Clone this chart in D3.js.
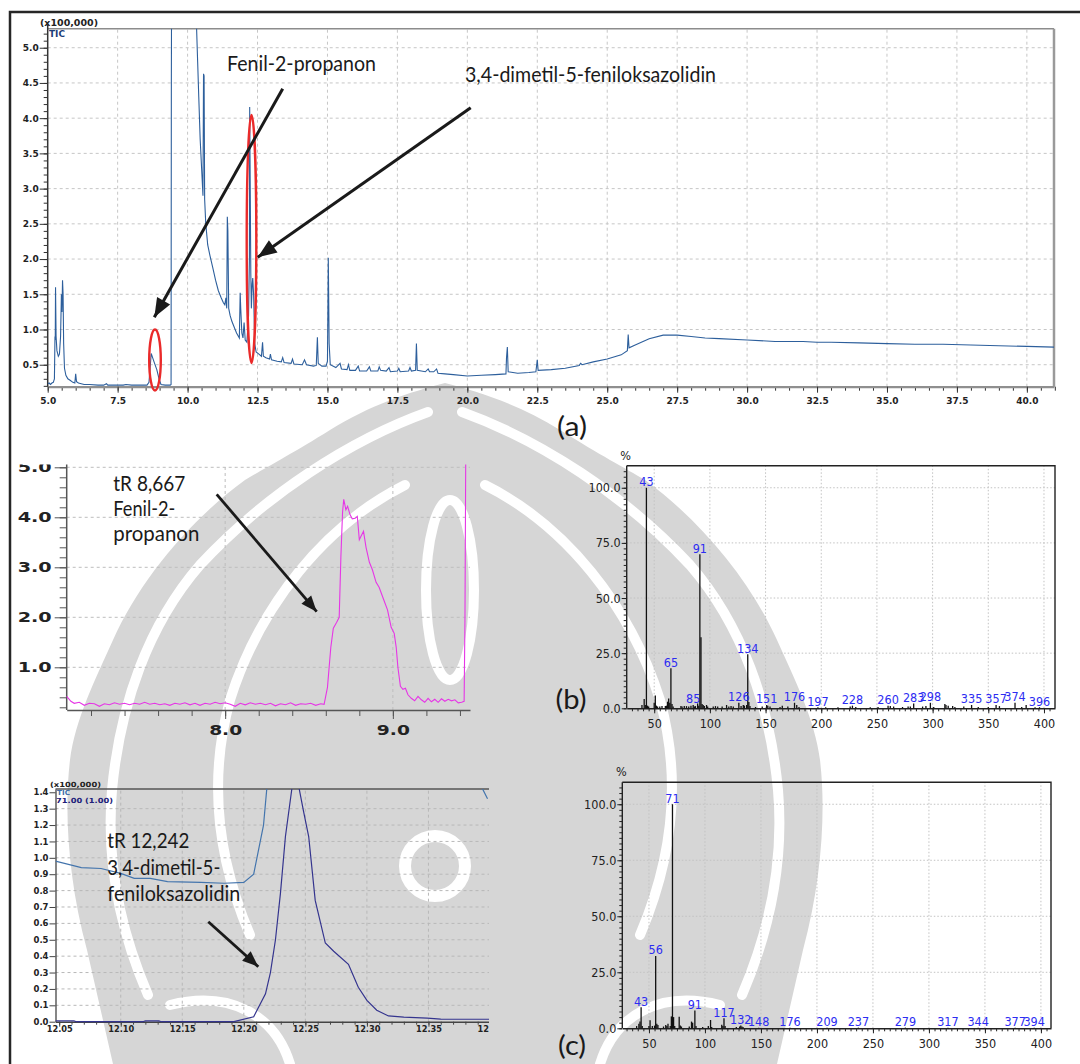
<!DOCTYPE html>
<html>
<head>
<meta charset="utf-8">
<script src="https://cdn.jsdelivr.net/npm/d3@7/dist/d3.min.js"></script>
<style>
  body { margin: 0; background: #fff; }
  svg { display: block; }
</style>
</head>
<body>
<script>
// ---------- data ----------

// (a) TIC chromatogram, time (min) vs intensity (x100,000); 6.0 = off scale
const ticA = [
  [5.00,0.23],[5.05,0.24],[5.10,0.22],[5.15,0.24],[5.20,0.25],[5.24,0.30],[5.26,0.90],[5.27,0.85],
  [5.28,1.60],[5.30,0.90],[5.33,0.70],[5.38,0.62],[5.42,0.65],[5.46,0.90],[5.49,1.50],[5.51,1.25],
  [5.53,1.70],[5.55,1.50],[5.57,0.80],[5.60,0.45],[5.65,0.35],[5.72,0.30],[5.80,0.28],[5.90,0.25],
  [5.97,0.24],[6.00,0.37],[6.03,0.26],[6.10,0.24],[6.30,0.22],[6.50,0.22],[6.80,0.21],[7.00,0.21],
  [7.10,0.23],[7.15,0.21],[7.40,0.21],[7.70,0.21],[7.80,0.22],[8.00,0.21],[8.30,0.21],[8.55,0.21],
  [8.62,0.25],[8.66,0.45],[8.70,0.66],[8.75,0.60],[8.82,0.52],[8.90,0.43],[8.98,0.30],[9.05,0.22],
  [9.20,0.21],[9.38,0.21],[9.41,0.22],[9.42,4.55],[9.43,6.0],[10.28,6.0],[10.32,5.30],[10.36,4.80],
  [10.40,4.30],[10.45,3.70],[10.50,3.30],[10.55,2.90],[10.57,4.63],[10.59,4.60],[10.61,2.85],
  [10.65,2.50],[10.72,2.20],[10.80,2.05],[10.90,1.88],[11.00,1.70],[11.10,1.55],[11.20,1.45],
  [11.28,1.38],[11.33,1.35],[11.37,1.45],[11.40,1.30],[11.42,2.60],[11.44,2.40],[11.47,1.30],
  [11.52,1.20],[11.58,1.12],[11.65,1.05],[11.75,0.95],[11.85,0.88],[11.88,1.52],[11.90,1.30],
  [11.94,0.95],[11.98,0.88],[12.02,1.10],[12.06,0.85],[12.12,0.82],[12.18,1.20],[12.21,2.00],
  [12.22,4.16],[12.24,3.00],[12.26,1.80],[12.28,1.30],[12.31,1.65],[12.33,1.73],[12.36,1.50],
  [12.40,0.80],[12.45,0.68],[12.55,0.65],[12.64,0.62],[12.68,0.82],[12.71,0.62],[12.80,0.60],
  [12.93,0.58],[12.96,0.65],[13.00,0.57],[13.20,0.55],[13.35,0.54],[13.40,0.60],[13.45,0.53],
  [13.70,0.52],[13.75,0.58],[13.80,0.51],[14.10,0.50],[14.18,0.57],[14.25,0.50],[14.50,0.48],
  [14.60,0.49],[14.64,0.89],[14.67,0.52],[14.80,0.48],[14.95,0.48],[15.00,0.55],[15.03,2.02],
  [15.06,0.80],[15.10,0.50],[15.30,0.46],[15.45,0.52],[15.50,0.44],[15.70,0.43],[15.75,0.50],
  [15.80,0.42],[16.00,0.42],[16.10,0.48],[16.15,0.41],[16.40,0.41],[16.50,0.47],[16.55,0.41],
  [16.80,0.41],[16.85,0.47],[16.90,0.42],[17.10,0.41],[17.20,0.46],[17.25,0.40],[17.50,0.41],
  [17.55,0.45],[17.60,0.40],[17.90,0.41],[17.95,0.46],[18.00,0.41],[18.15,0.42],[18.18,0.80],
  [18.21,0.42],[18.50,0.40],[18.60,0.44],[18.65,0.40],[18.80,0.40],[18.90,0.44],[18.95,0.38],
  [19.20,0.37],[19.50,0.36],[20.00,0.34],[20.50,0.35],[21.00,0.36],[21.38,0.37],[21.40,0.60],
  [21.43,0.75],[21.46,0.40],[21.80,0.38],[22.20,0.39],[22.45,0.40],[22.50,0.57],[22.53,0.42],
  [23.00,0.43],[23.50,0.45],[24.00,0.49],[24.05,0.52],[24.10,0.50],[24.50,0.54],[25.00,0.58],
  [25.50,0.64],[25.72,0.70],[25.75,0.93],[25.78,0.74],[26.00,0.78],[26.50,0.87],[27.00,0.92],
  [27.50,0.92],[28.00,0.90],[28.50,0.88],[29.00,0.87],[30.00,0.85],[31.00,0.83],[32.00,0.83],
  [32.50,0.82],[33.00,0.82],[34.00,0.81],[35.00,0.80],[36.00,0.79],[37.00,0.79],[38.00,0.78],
  [39.00,0.77],[40.00,0.76],[41.00,0.75]
];
const aTicksX = [5, 7.5, 10, 12.5, 15, 17.5, 20, 22.5, 25, 27.5, 30, 32.5, 35, 37.5, 40];
const aTicksY = [0.5, 1.0, 1.5, 2.0, 2.5, 3.0, 3.5, 4.0, 4.5, 5.0];

// (b) zoomed chromatogram around tR 8,667
const chromB = [
  [7.055,0.42],[7.08,0.32],[7.10,0.28],[7.13,0.30],[7.16,0.24],[7.19,0.28],[7.22,0.27],[7.25,0.22],
  [7.28,0.27],[7.31,0.25],[7.34,0.29],[7.37,0.26],[7.40,0.28],[7.43,0.25],[7.46,0.28],[7.49,0.26],
  [7.52,0.30],[7.55,0.26],[7.58,0.28],[7.61,0.25],[7.64,0.27],[7.67,0.24],[7.70,0.28],[7.73,0.26],
  [7.76,0.29],[7.79,0.25],[7.82,0.28],[7.85,0.24],[7.88,0.28],[7.91,0.26],[7.94,0.30],[7.97,0.27],
  [8.00,0.29],[8.03,0.26],[8.06,0.22],[8.09,0.28],[8.12,0.25],[8.15,0.29],[8.18,0.26],[8.21,0.28],
  [8.24,0.25],[8.27,0.28],[8.30,0.23],[8.33,0.27],[8.36,0.25],[8.39,0.29],[8.42,0.24],[8.45,0.27],
  [8.48,0.26],[8.51,0.28],[8.54,0.24],[8.57,0.27],[8.59,0.26],[8.61,0.60],[8.63,1.40],[8.645,1.78],
  [8.665,1.90],[8.68,2.00],[8.69,3.20],[8.70,4.10],[8.707,4.36],[8.72,4.15],[8.73,4.22],[8.745,4.05],
  [8.758,3.97],[8.775,3.98],[8.788,4.02],[8.80,3.55],[8.81,3.62],[8.825,3.72],[8.84,3.40],[8.86,3.10],
  [8.878,2.95],[8.90,2.70],[8.918,2.60],[8.94,2.40],[8.968,2.15],[8.99,1.80],[9.008,1.68],[9.02,1.40],
  [9.03,1.00],[9.045,0.62],[9.06,0.56],[9.075,0.58],[9.09,0.45],[9.11,0.38],[9.13,0.33],[9.15,0.42],
  [9.17,0.35],[9.19,0.30],[9.21,0.38],[9.23,0.31],[9.25,0.36],[9.27,0.30],[9.29,0.37],[9.31,0.32],
  [9.33,0.36],[9.35,0.33],[9.37,0.35],[9.39,0.29],[9.41,0.30],[9.425,0.32],[9.43,2.00],[9.435,5.50]
];
const bTicksY = [1, 2, 3, 4, 5];
const bTicksX = [8, 9];

// (c) zoomed chromatograms around tR 12,242: TIC and m/z 71
const ticC = [
  [12.047,0.98],[12.068,0.94],[12.084,0.935],[12.10,0.905],[12.111,0.875],[12.124,0.875],
  [12.138,0.855],[12.165,0.85],[12.184,0.845],[12.20,0.85],[12.208,0.90],[12.216,1.20],
  [12.219,1.45],[12.222,1.60],[12.392,1.60],[12.394,1.42],[12.398,1.36]
];
const ionC = [
  [12.047,0.005],[12.062,0.005],[12.064,0.0],[12.118,0.0],[12.12,0.005],[12.131,0.005],[12.133,0.0],
  [12.192,0.0],[12.208,0.03],[12.2176,0.17],[12.2216,0.30],[12.2257,0.50],[12.2297,0.78],
  [12.2338,1.13],[12.239,1.42],[12.242,1.60],[12.245,1.42],[12.2486,1.28],[12.2527,1.13],
  [12.258,0.74],[12.2662,0.48],[12.273,0.43],[12.285,0.35],[12.293,0.21],[12.30,0.13],
  [12.308,0.07],[12.3175,0.035],[12.33,0.028],[12.349,0.022],[12.36,0.016],[12.40,0.015]
];
const cTicksY = [0, 0.1, 0.2, 0.3, 0.4, 0.5, 0.6, 0.7, 0.8, 0.9, 1.0, 1.1, 1.2, 1.3, 1.4];
const cTicksX = [12.05, 12.10, 12.15, 12.20, 12.25, 12.30, 12.35, 12.40];

// mass spectra, m/z vs relative abundance (%)
const msB = [
  [39,1.5],[41,4.2],[42,1.5],[43,100],[44,1.2],[45,0.8],[50,2.5],[51,5.8],[52,1.2],[53,0.8],[55,0.8],
  [57,1.0],[60,1.0],[61,1.2],[62,3.0],[63,4.5],[64,2.5],[65,18.2],[66,2.0],[67,0.8],[74,1.0],[75,0.8],
  [77,1.0],[79,1.0],[81,0.8],[83,1.2],[85,1.5],[86,0.8],[87,1.0],[89,2.2],[90,1.2],[91,69.8],[92,32.2],
  [93,2.0],[94,1.5],[95,1.0],[97,1.5],[98,0.8],[103,0.8],[105,1.0],[107,0.8],[111,0.8],[115,1.5],
  [117,0.8],[119,1.0],[121,0.8],[126,2.5],[128,1.0],[130,1.5],[131,1.2],[133,1.5],[134,24.5],[135,2.8],
  [136,1.0],[141,0.6],[147,0.8],[151,1.5],[152,1.2],[154,0.8],[163,0.6],[165,1.2],[170,0.8],[176,2.5],
  [178,1.5],[180,0.6],[197,0.5],[204,0.5],[215,0.5],[226,0.8],[228,1.2],[231,0.6],[244,0.5],[251,0.6],
  [260,1.2],[262,1.0],[265,0.8],[273,0.6],[278,0.8],[280,0.8],[283,2.2],[291,0.8],[294,1.0],[298,2.5],
  [301,0.6],[311,2.0],[312,1.5],[314,1.2],[318,1.0],[320,0.6],[328,0.8],[335,1.5],[341,0.6],[350,0.6],
  [357,1.5],[360,1.0],[374,2.5],[380,0.6],[384,1.5],[392,0.5],[396,0.5]
];
const msBLabels = [43, 65, 85, 91, 126, 134, 151, 176, 197, 228, 260, 283, 298, 335, 357, 374, 396];

const msC = [
  [39,1.0],[41,2.0],[42,3.0],[43,9.4],[44,1.0],[50,1.0],[51,3.6],[53,1.0],[55,1.2],[56,32.3],[57,2.0],
  [58,1.5],[63,0.8],[65,1.5],[66,1.0],[67,2.0],[69,1.0],[70,5.3],[71,100],[72,5.0],[73,1.0],[77,5.2],
  [78,1.2],[79,0.8],[86,0.8],[88,3.0],[89,2.5],[91,7.9],[92,1.0],[98,0.6],[103,1.0],[105,3.7],[106,0.6],
  [115,1.6],[116,1.0],[117,4.5],[118,1.0],[128,0.6],[131,0.8],[132,1.2],[133,0.8],[134,0.6],[148,0.3],
  [176,0.3],[209,0.3],[237,0.3],[279,0.3],[317,0.3],[344,0.3],[377,0.3],[394,0.3]
];
const msCLabels = [43, 56, 71, 91, 117, 132, 148, 176, 209, 237, 279, 317, 344, 377, 394];

const msTicksX = [50, 100, 150, 200, 250, 300, 350, 400];
const msTicksY = [0, 25, 50, 75, 100];

// ---------- drawing ----------
const W = 1080, H = 1064;
const svg = d3.select('body').append('svg').attr('width', W).attr('height', H);
svg.append('rect').attr('width', W).attr('height', H).attr('fill', '#fff');
const defs = svg.append('defs');

const AXFONT = "'DejaVu Sans', Arial, sans-serif";
const MSFONT = "'Liberation Sans Narrow', 'Arial Narrow', 'DejaVu Sans Condensed', sans-serif";
const NOTEFONT = "Lato, 'Open Sans', sans-serif";

function addMarker(id, len, wid) {
    defs.append('marker').attr('id', id)
        .attr('viewBox', `${-len - 1} ${-wid} ${len + 2} ${wid * 2}`)
        .attr('markerWidth', len + 2).attr('markerHeight', wid * 2)
        .attr('markerUnits', 'userSpaceOnUse').attr('refX', 0).attr('refY', 0)
        .attr('orient', 'auto')
        .append('path').attr('d', `M0,0 L${-len},${-wid * 0.75} L${-len},${wid * 0.75} Z`).attr('fill', '#1a1a1a');
}
addMarker('arrowBig', 19, 10);
addMarker('arrowSmall', 16, 8.5);

function clip(id, x, y, w, h) {
    defs.append('clipPath').attr('id', id).append('rect')
        .attr('x', x).attr('y', y).attr('width', w).attr('height', h);
    return `url(#${id})`;
}

function grid(parent, x, y, xs, ys, dash, color) {
    const g = parent.append('g');
    const [x0, x1] = x.range(), [y0, y1] = y.range();
    g.selectAll('line.v').data(xs).join('line').attr('class', 'v')
        .attr('x1', d => x(d)).attr('x2', d => x(d)).attr('y1', y0).attr('y2', y1);
    g.selectAll('line.h').data(ys).join('line').attr('class', 'h')
        .attr('x1', x0).attr('x2', x1).attr('y1', d => y(d)).attr('y2', d => y(d));
    g.selectAll('line').attr('stroke', color).attr('stroke-width', 1).attr('stroke-dasharray', dash);
}

function styleAxis(sel, o) {
    sel.select('.domain').attr('stroke', o.domain || '#333').attr('stroke-width', o.dw || 1.3);
    sel.selectAll('.tick line').attr('stroke', o.tick || '#333').attr('stroke-width', o.tw || 1);
    const t = sel.selectAll('.tick text')
        .attr('font-family', o.font).attr('font-size', o.size)
        .attr('font-weight', o.weight || 'normal').attr('fill', o.fill || '#222');
    if (o.len) t.attr('textLength', o.len).attr('lengthAdjust', 'spacingAndGlyphs');
    return sel;
}

function minorAxis(parent, axis, values, size, color) {
    const g = parent.append('g').call(axis.tickValues(values).tickSize(size).tickFormat('').tickSizeOuter(0));
    g.select('.domain').remove();
    g.selectAll('.tick line').attr('stroke', color || '#333');
    return g;
}

function note(parent, x, y, str, size, len) {
    parent.append('text').attr('x', x).attr('y', y).text(str)
        .attr('font-family', NOTEFONT).attr('font-size', size).attr('fill', '#1a1a1a')
        .attr('textLength', len).attr('lengthAdjust', 'spacingAndGlyphs');
}

function arrow(parent, x1, y1, x2, y2, w, marker) {
    parent.append('line').attr('x1', x1).attr('y1', y1).attr('x2', x2).attr('y2', y2)
        .attr('stroke', '#1a1a1a').attr('stroke-width', w).attr('marker-end', `url(#${marker})`);
}

// background watermark (rough emblem shape, mirrored about x = 445)
{
    const wm = svg.append('g');
    const bands = [
        'M462,412 C540,440 625,495 690,565 C742,625 770,705 778,790 C784,860 770,930 742,995',
        'M485,485 C565,525 630,605 660,700 C682,780 672,860 640,935',
        'M600,1064 C615,1015 660,990 720,1005',
        'M700,470 C730,500 760,540 785,590'
    ];
    const half = g => {
        g.append('path')
            .attr('d', 'M445,383 C480,392 520,405 560,430 C600,455 625,468 645,480 C700,520 750,580 777,640 C795,680 815,720 820,760 C826,810 822,880 803,950 L777,1064 L445,1064 Z')
            .attr('fill', '#d6d6d6');
        g.selectAll('path.band').data(bands).join('path').attr('class', 'band')
            .attr('d', d => d).attr('fill', 'none').attr('stroke', '#fff')
            .attr('stroke-width', 10).attr('stroke-linecap', 'round');
    };
    half(wm.append('g'));
    half(wm.append('g').attr('transform', 'translate(890,0) scale(-1,1)'));
    wm.append('ellipse').attr('cx', 450).attr('cy', 590).attr('rx', 24).attr('ry', 90)
        .attr('fill', '#d6d6d6').attr('stroke', '#fff').attr('stroke-width', 10);
    wm.append('circle').attr('cx', 435).attr('cy', 866).attr('r', 30)
        .attr('fill', '#d6d6d6').attr('stroke', '#fff').attr('stroke-width', 12);
}

// outer frame
svg.append('path').attr('d', 'M10,1064 L10,12 L1080,12').attr('fill', 'none')
    .attr('stroke', '#262626').attr('stroke-width', 2.5);

// ===== (a) full TIC =====
{
    const L = 47.7, R = 1054, T = 28.7, B = 386.7;
    const x = d3.scaleLinear().domain([5, 40.97]).range([L, R]);
    const y = d3.scaleLinear().domain([0.188, 5.27]).range([B, T]);
    const g = svg.append('g');
    grid(g, x, y, aTicksX.slice(1), aTicksY, '3,3', '#c6c6c6');
    g.append('line').attr('x1', L).attr('x2', R).attr('y1', T).attr('y2', T).attr('stroke', '#8c8c8c').attr('stroke-width', 1.6);
    g.append('line').attr('x1', R).attr('x2', R).attr('y1', T).attr('y2', B).attr('stroke', '#9a9a9a').attr('stroke-width', 2.5);

    const yMinor = d3.range(2, 53).map(i => i / 10);
    minorAxis(g.append('g').attr('transform', `translate(${L},0)`), d3.axisLeft(y), yMinor, 4);
    const ya = g.append('g').attr('transform', `translate(${L},0)`)
        .call(d3.axisLeft(y).tickValues(aTicksY).tickSize(8).tickPadding(1).tickSizeOuter(0).tickFormat(d3.format('.1f')));
    styleAxis(ya, {font: AXFONT, size: 9, weight: 'bold', domain: '#333', dw: 1.5});
    ya.select('.domain').attr('d', `M0,${B}V${T - 4}`);

    const xMinor = d3.range(10, 83).map(i => i / 2);
    minorAxis(g.append('g').attr('transform', `translate(0,${B})`), d3.axisBottom(x), xMinor, 4);
    const xa = g.append('g').attr('transform', `translate(0,${B})`)
        .call(d3.axisBottom(x).tickValues(aTicksX).tickSize(6).tickPadding(5).tickSizeOuter(0).tickFormat(d3.format('.1f')));
    styleAxis(xa, {font: AXFONT, size: 9, weight: 'bold', domain: '#8f8f8f', dw: 2.2});

    g.append('text').attr('x', 40).attr('y', 26).text('(x100,000)')
        .attr('font-family', AXFONT).attr('font-size', 8.5).attr('font-weight', 'bold').attr('fill', '#222')
        .attr('textLength', 58).attr('lengthAdjust', 'spacingAndGlyphs');
    g.append('text').attr('x', 49).attr('y', 36.5).text('TIC')
        .attr('font-family', AXFONT).attr('font-size', 8).attr('font-weight', 'bold').attr('fill', '#1d3d78')
        .attr('textLength', 16).attr('lengthAdjust', 'spacingAndGlyphs');

    g.append('path').datum(ticA).attr('clip-path', clip('clipA', L, T, R - L, B - T))
        .attr('d', d3.line().x(d => x(d[0])).y(d => y(d[1])))
        .attr('fill', 'none').attr('stroke', '#2d5f9c').attr('stroke-width', 1.1);

    // annotations
    g.append('ellipse').attr('cx', 155).attr('cy', 360).attr('rx', 5.8).attr('ry', 30.5)
        .attr('fill', 'none').attr('stroke', '#ea2a2a').attr('stroke-width', 2.4);
    g.append('ellipse').attr('cx', 251.5).attr('cy', 239).attr('rx', 4.8).attr('ry', 124)
        .attr('fill', 'none').attr('stroke', '#ea2a2a').attr('stroke-width', 2.4);
    note(g, 227, 70.5, 'Fenil-2-propanon', 21, 149);
    note(g, 465, 82, '3,4-dimetil-5-feniloksazolidin', 21, 251);
    arrow(g, 282.7, 88.7, 154.3, 317.3, 3, 'arrowBig');
    arrow(g, 470.7, 107.7, 257.7, 257.3, 3, 'arrowBig');
    g.append('text').attr('x', 572).attr('y', 436).text('(a)').attr('text-anchor', 'middle')
        .attr('font-family', NOTEFONT).attr('font-size', 26).attr('fill', '#1a1a1a')
        .attr('textLength', 30).attr('lengthAdjust', 'spacingAndGlyphs');
}

// ===== (b) zoomed chromatogram =====
{
    const L = 66.7, R = 470, B = 710;
    const x = d3.scaleLinear().domain([7.055, 9.46]).range([L, R]);
    const y = d3.scaleLinear().domain([0.146, 5.0]).range([B, 467.3]);
    const g = svg.append('g').attr('clip-path', clip('clipB', 0, 464.5, 480, 300));
    grid(g, x, d3.scaleLinear().domain(y.domain()).range([B, 440]), bTicksX, [], '3,3', '#bdbdbd');
    g.selectAll('line.hb').data(bTicksY).join('line').attr('class', 'hb')
        .attr('x1', L).attr('x2', R).attr('y1', d => y(d)).attr('y2', d => y(d))
        .attr('stroke', '#bdbdbd').attr('stroke-dasharray', '3,3');

    const yMinor = d3.range(1, 26).map(i => i / 5);
    minorAxis(g.append('g').attr('transform', `translate(${L},0)`), d3.axisLeft(y), yMinor, 7, '#555');
    const ya = g.append('g').attr('transform', `translate(${L},0)`)
        .call(d3.axisLeft(y).tickValues(bTicksY).tickSize(12).tickPadding(3).tickSizeOuter(0).tickFormat(d3.format('.1f')));
    styleAxis(ya, {font: AXFONT, size: 14, weight: 'bold', len: 34, domain: '#555', dw: 1.5, tick: '#555'});
    ya.select('.domain').attr('d', `M0,${B}V440`);

    const xMinor = d3.range(36, 48).map(i => i / 5);
    minorAxis(g.append('g').attr('transform', `translate(0,${B})`), d3.axisBottom(x), xMinor, 6, '#555');
    const xa = g.append('g').attr('transform', `translate(0,${B})`)
        .call(d3.axisBottom(x).tickValues(bTicksX).tickSize(9).tickPadding(6).tickSizeOuter(0).tickFormat(d3.format('.1f')));
    styleAxis(xa, {font: AXFONT, size: 14, weight: 'bold', len: 33, domain: '#555', dw: 1.5, tick: '#555'});

    g.append('path').datum(chromB)
        .attr('d', d3.line().x(d => x(d[0])).y(d => y(d[1])))
        .attr('fill', 'none').attr('stroke', '#e636e6').attr('stroke-width', 1.1);

    note(g, 113.3, 490.7, 'tR 8,667', 21, 72);
    note(g, 113.3, 515.7, 'Fenil-2-', 21, 62);
    note(g, 113.3, 540.5, 'propanon', 21, 86);
    arrow(g, 216.7, 494.3, 316.7, 611.7, 2.8, 'arrowSmall');
}
svg.append('text').attr('x', 571).attr('y', 709).text('(b)').attr('text-anchor', 'middle')
    .attr('font-family', NOTEFONT).attr('font-size', 26).attr('fill', '#1a1a1a')
    .attr('textLength', 31).attr('lengthAdjust', 'spacingAndGlyphs');

// ===== (c) zoomed chromatograms =====
{
    const L = 55.5, R = 490, T = 789, B = 1021.7;
    const x = d3.scaleLinear().domain([12.047, 12.40]).range([L, R]);
    const y = d3.scaleLinear().domain([0, 1.42]).range([B, T]);
    const g = svg.append('g').attr('clip-path', clip('clipC', 0, 760, 489, 304));
    grid(g, x, y, cTicksX.slice(1), cTicksY.slice(1, 14), '3,3', '#b8b8b8');
    g.append('line').attr('x1', L).attr('x2', R).attr('y1', T).attr('y2', T).attr('stroke', '#555').attr('stroke-width', 1.4);

    const ya = g.append('g').attr('transform', `translate(${L},0)`)
        .call(d3.axisLeft(y).tickValues(cTicksY).tickSize(6).tickPadding(1).tickSizeOuter(0).tickFormat(d3.format('.1f')));
    styleAxis(ya, {font: AXFONT, size: 8, weight: 'bold', len: 15, domain: '#444', dw: 1.3, tick: '#444'});

    const xMinor = d3.range(1205, 1241).map(i => i / 100);
    minorAxis(g.append('g').attr('transform', `translate(0,${B})`), d3.axisBottom(x), xMinor, 3, '#444');
    const xa = g.append('g').attr('transform', `translate(0,${B})`)
        .call(d3.axisBottom(x).tickValues(cTicksX).tickSize(5).tickPadding(0).tickSizeOuter(0).tickFormat(d3.format('.2f')));
    styleAxis(xa, {font: AXFONT, size: 8, weight: 'bold', len: 26, domain: '#444', dw: 1.4, tick: '#444'});

    const lineC = d3.line().x(d => x(d[0])).y(d => y(d[1]));
    const plot = g.append('g').attr('clip-path', clip('clipC2', L, T, R - L, B - T + 2));
    plot.append('path').datum(ticC).attr('d', lineC)
        .attr('fill', 'none').attr('stroke', '#4475ad').attr('stroke-width', 1.2);
    plot.append('path').datum(ionC).attr('d', lineC)
        .attr('fill', 'none').attr('stroke', '#34348e').attr('stroke-width', 1.2);

    const small = (yy, str, fill, len) => g.append('text').attr('x', yy[0]).attr('y', yy[1]).text(str)
        .attr('font-family', AXFONT).attr('font-size', 7).attr('font-weight', 'bold').attr('fill', fill)
        .attr('textLength', len).attr('lengthAdjust', 'spacingAndGlyphs');
    small([50, 786.5], '(x100,000)', '#222', 51);
    small([57, 795], 'TIC', '#3f6fa8', 13);
    small([56, 802.5], '71.00 (1.00)', '#20207a', 57);

    note(g, 107.3, 848.3, 'tR 12,242', 21.5, 82);
    note(g, 107.3, 875, '3,4-dimetil-5-', 21.5, 113);
    note(g, 107.3, 900.5, 'feniloksazolidin', 21.5, 133);
    arrow(g, 208.3, 921.7, 258.3, 966.7, 2.8, 'arrowSmall');
}
svg.append('text').attr('x', 572).attr('y', 1055).text('(c)').attr('text-anchor', 'middle')
    .attr('font-family', NOTEFONT).attr('font-size', 26).attr('fill', '#1a1a1a')
    .attr('textLength', 28).attr('lengthAdjust', 'spacingAndGlyphs');

// ===== mass spectra =====
function spectrum(cfg) {
    const {L, R, T, B, xDom, yMax, data, labels} = cfg;
    const x = d3.scaleLinear().domain(xDom).range([L, R]);
    const y = d3.scaleLinear().domain([0, yMax]).range([B, T]);
    const g = svg.append('g');
    grid(g, x, y, msTicksX, msTicksY.slice(1), '1.5,2', '#c2c2c2');
    g.append('path').attr('d', `M${L},${T}H${R}V${B}`).attr('fill', 'none').attr('stroke', '#222').attr('stroke-width', 1.4);

    minorAxis(g.append('g').attr('transform', `translate(${L},0)`), d3.axisLeft(y), d3.range(0, 108, 2.5), 3, '#222');
    const ya = g.append('g').attr('transform', `translate(${L},0)`)
        .call(d3.axisLeft(y).tickValues(msTicksY).tickSize(5).tickPadding(1).tickSizeOuter(0).tickFormat(d3.format('.1f')));
    styleAxis(ya, {font: MSFONT, size: 12.5, domain: '#222', dw: 1.4, tick: '#222'});
    ya.select('.domain').attr('d', `M0,${B}V${T}`);

    minorAxis(g.append('g').attr('transform', `translate(0,${B})`), d3.axisBottom(x), d3.range(30, 406, 5), 3, '#222');
    const xa = g.append('g').attr('transform', `translate(0,${B})`)
        .call(d3.axisBottom(x).tickValues(msTicksX).tickSize(5).tickPadding(6).tickSizeOuter(0));
    styleAxis(xa, {font: MSFONT, size: 12.5, domain: '#222', dw: 1.6, tick: '#222'});

    g.append('text').attr('x', L - 1).attr('y', T - 6).text('%').attr('text-anchor', 'middle')
        .attr('font-family', MSFONT).attr('font-size', 12.5).attr('fill', '#222');

    g.append('g').selectAll('line').data(data).join('line')
        .attr('x1', d => x(d[0])).attr('x2', d => x(d[0]))
        .attr('y1', y(0)).attr('y2', d => y(d[1]))
        .attr('stroke', '#111').attr('stroke-width', 1.3);

    const lookup = new Map(data);
    g.append('g').selectAll('text').data(labels).join('text')
        .attr('x', d => x(d)).attr('y', d => y(lookup.get(d) || 0) - 1.5)
        .attr('text-anchor', 'middle').text(d => d)
        .attr('font-family', MSFONT).attr('font-size', 12.5).attr('fill', '#2c2cf2');
}

spectrum({L: 626.7, R: 1055, T: 465.7, B: 708.3, xDom: [25.3, 409.9], yMax: 110, data: msB, labels: msBLabels});
spectrum({L: 622.3, R: 1051, T: 782.3, B: 1028.3, xDom: [26.2, 409], yMax: 109.8, data: msC, labels: msCLabels});
</script>
</body>
</html>
